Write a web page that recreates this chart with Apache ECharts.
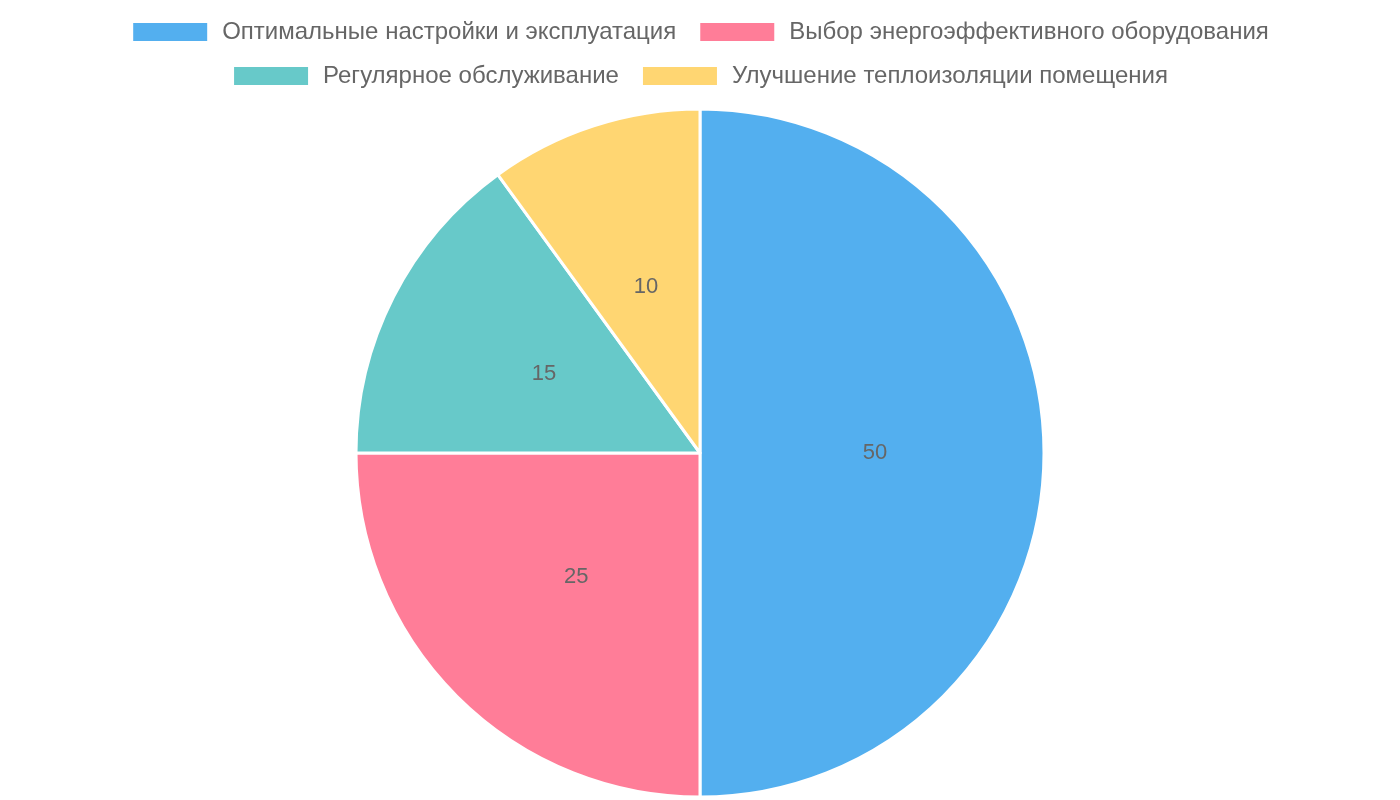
<!DOCTYPE html>
<html><head><meta charset="utf-8">
<script src="https://cdn.jsdelivr.net/npm/echarts@6/dist/echarts.min.js"></script>
<style>html,body{margin:0;padding:0;background:#fff}#c{width:1400px;height:800px}</style>
</head><body><div id="c"></div>
<script>
const categories = ['Оптимальные настройки и эксплуатация','Выбор энергоэффективного оборудования','Регулярное обслуживание','Улучшение теплоизоляции помещения'];
const values = [50, 25, 15, 10];
const colors = ['#53AFEF','#FF7D98','#67C9C9','#FFD672'];
const chart = echarts.init(document.getElementById('c'));
const legendBase = {
  left: 'center', orient: 'horizontal',
  itemWidth: 76, itemHeight: 20, itemGap: 22,
  icon: 'rect', padding: 0,
  textStyle: { fontFamily: 'Liberation Sans', fontSize: 24, color: '#666', padding: [0, 0, 0, 9] }
};
chart.setOption({
  animation: false,
  color: colors,
  legend: [
    Object.assign({}, legendBase, { top: 20, data: categories.slice(0, 2) }),
    Object.assign({}, legendBase, { top: 64, data: categories.slice(2) })
  ],
  series: [{
    type: 'pie',
    center: [700, 453], radius: 344,
    startAngle: 90, clockwise: true,
    label: { position: 'inside', formatter: '{c}', fontFamily: 'Liberation Sans', fontSize: 22, color: '#666' },
    labelLine: { show: false },
    itemStyle: { borderColor: '#fff', borderWidth: 3 },
    emphasis: { disabled: true },
    data: categories.map((n, i) => ({ name: n, value: values[i] }))
  }]
});
</script></body></html>
